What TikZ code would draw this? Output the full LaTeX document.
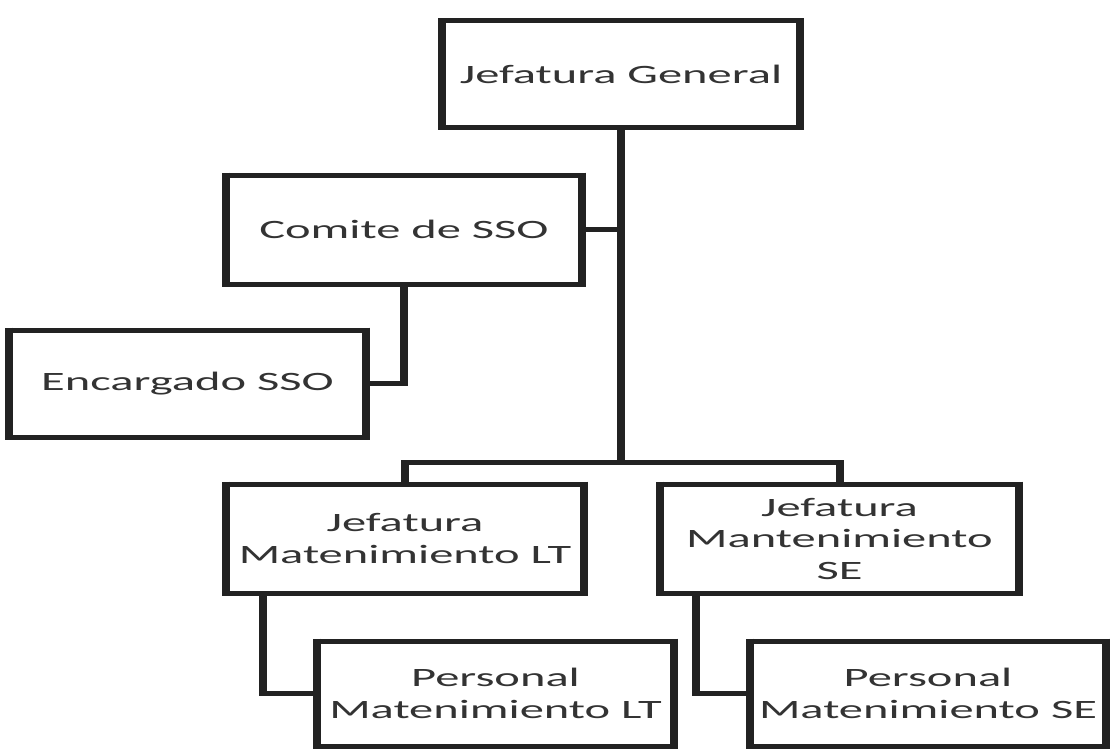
\documentclass[tikz,border=0pt]{standalone}
\usepackage{fontspec}
\setmainfont{Carlito}[FakeStretch=1.83]
\definecolor{linec}{HTML}{222222}
\definecolor{textc}{HTML}{333333}
\tikzset{
  hl/.style={draw=linec, line width=5pt, line cap=butt},
  vl/.style={draw=linec, line width=8pt, line cap=butt},
  orgbox/.style={draw=none, inner sep=1pt, outer sep=0pt, align=center,
    text=textc, font=\fontsize{26.5}{31.5}\selectfont},
}
\newcommand\orgframe[1]{%
  \draw[hl] ([xshift=-4pt]#1.north west) -- ([xshift=4pt]#1.north east)
            ([xshift=-4pt]#1.south west) -- ([xshift=4pt]#1.south east);
  \draw[vl] ([yshift=2.5pt]#1.north west) -- ([yshift=-2.5pt]#1.south west)
            ([yshift=2.5pt]#1.north east) -- ([yshift=-2.5pt]#1.south east);
}
\begin{document}
\begin{tikzpicture}[x=1pt, y=-1pt]
\useasboundingbox[fill=white] (0,0) rectangle (1110,750);
\node[orgbox, minimum width=358pt, minimum height=107pt] (jg) at (621,74) {Jefatura General};
\node[orgbox, minimum width=356pt, minimum height=109.5pt] (com) at (404,229.75) {Comite de SSO};
\node[orgbox, minimum width=357pt, minimum height=107pt] (enc) at (187.5,383.5) {Encargado SSO};
\node[orgbox, minimum width=358pt, minimum height=109.5pt] (jlt) at (405,538.75) {Jefatura\\Matenimiento LT};
\node[orgbox, minimum width=359pt, minimum height=109pt] (jse) at (839.5,538.5) {Jefatura\\Mantenimiento\\SE};
\node[orgbox, minimum width=357pt, minimum height=105pt] (plt) at (495.5,693.5) {Personal\\Matenimiento LT};
\node[orgbox, minimum width=356pt, minimum height=105pt] (pse) at (928,693.5) {Personal\\Matenimiento SE};
\foreach \n in {jg,com,enc,jlt,jse,plt,pse}{\orgframe{\n}}
\coordinate (bus) at (621,462);
% trunk
\draw[vl] (jg.south) -- ([yshift=-2.5pt]bus);
\draw[hl] (com.east) -- (com.east -| jg.south);
% bus
\draw[hl] ([xshift=-4pt]jlt.north |- bus) -- ([xshift=4pt]jse.north |- bus);
\draw[vl] (jlt.north) -- ([yshift=2.5pt]jlt.north |- bus);
\draw[vl] (jse.north) -- ([yshift=2.5pt]jse.north |- bus);
% comite -> encargado
\draw[vl] (com.south) -- ([yshift=-2.5pt]com.south |- enc.east);
\draw[hl] (com.south |- enc.east) -- (enc.east);
% LT
\draw[vl] ([xshift=-142pt]jlt.south) -- ([xshift=-142pt,yshift=-2.5pt]jlt.south |- plt.west);
\draw[hl] ([xshift=-142pt]jlt.south |- plt.west) -- (plt.west);
% SE
\draw[vl] ([xshift=-143.5pt]jse.south) -- ([xshift=-143.5pt,yshift=-2.5pt]jse.south |- pse.west);
\draw[hl] ([xshift=-143.5pt]jse.south |- pse.west) -- (pse.west);
\end{tikzpicture}
\end{document}
